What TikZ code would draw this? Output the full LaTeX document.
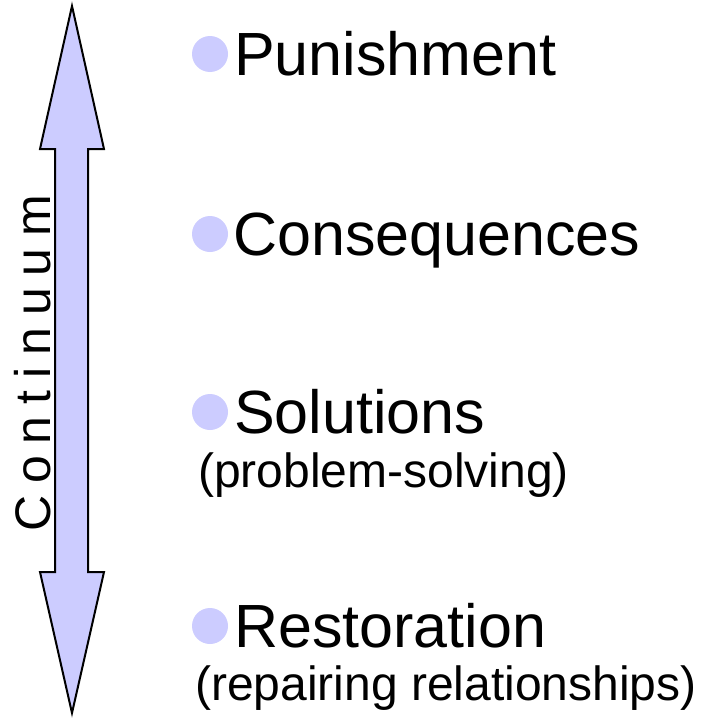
\documentclass[tikz,border=0pt]{standalone}
\usepackage{fontspec}
\setmainfont{Liberation Sans}
\definecolor{bulletblue}{HTML}{CCCCFF}
\newcommand\lsp{\hspace{11.9pt}}
\tikzset{
  mainitem/.style={anchor=base west, inner sep=0pt, font=\fontsize{61}{70}\selectfont},
  subitem/.style={anchor=base west, inner sep=0pt, font=\fontsize{48}{56}\selectfont},
  bulletdot/.style={circle, fill=bulletblue, minimum size=36pt, inner sep=0pt},
  arrowshape/.style={fill=bulletblue, draw=black, line width=2pt, line join=miter},
}
\begin{document}
\begin{tikzpicture}[x=1pt,y=-1pt]
\useasboundingbox (0,0) rectangle (703,720);
% double arrow
\draw[arrowshape] (72,6) -- (104,149) -- (88,149) -- (88,572) -- (104,572) -- (72,713)
  -- (40,572) -- (55,572) -- (55,149) -- (40,149) -- cycle;
\node[rotate=90, anchor=base west, inner sep=0pt, font=\fontsize{50}{56}\selectfont] (cont) at (50,532)
  {C\lsp o\lsp n\lsp t\lsp i\lsp n\lsp u\lsp u\lsp m};
% items
\node[bulletdot] (b1) at (210,54) {};
\node[mainitem] (t1) at (234,75) {Punishment};
\node[bulletdot] (b2) at (210,234) {};
\node[mainitem] (t2) at (233,255) {Consequences};
\node[bulletdot] (b3) at (210,412) {};
\node[mainitem] (t3) at (234,433) {Solutions};
\node[subitem] (s3) at (198,487) {(problem-solving)};
\node[bulletdot] (b4) at (210,626) {};
\node[mainitem] (t4) at (234,647) {Restoration};
\node[subitem] (s4) at (195,700) {(repairing relationships)};
\end{tikzpicture}
\end{document}
